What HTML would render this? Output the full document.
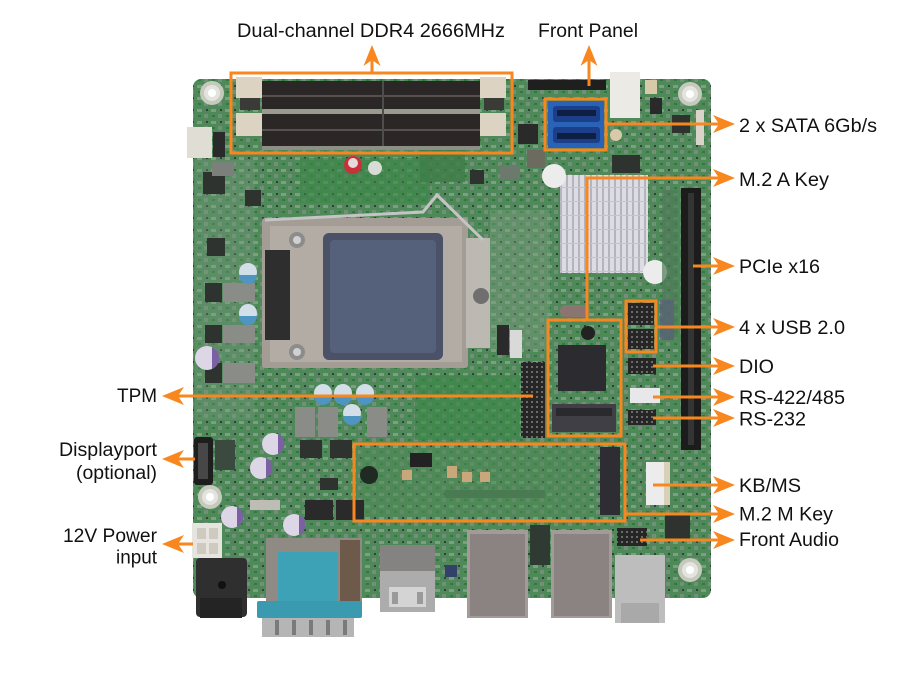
<!DOCTYPE html>
<html><head><meta charset="utf-8"><style>
html,body{margin:0;padding:0;background:#fff;}
svg{display:block;}
text{font-family:"Liberation Sans",Arial,sans-serif;font-size:19px;fill:#111;}
</style></head><body>
<svg width="916" height="690" viewBox="0 0 916 690" xmlns="http://www.w3.org/2000/svg">
<defs>
<pattern id="fins" x="560" y="175" width="6" height="14" patternUnits="userSpaceOnUse">
<rect width="6" height="14" fill="#dcdce2"/><rect x="0" width="2" height="14" fill="#b4b4be"/><rect y="12" width="6" height="1" fill="#c4c4cc"/>
</pattern>
<pattern id="pins" width="5" height="5" patternUnits="userSpaceOnUse">
<rect width="5" height="5" fill="#262626"/><rect x="1" y="1" width="2" height="2" fill="#6b6b6b"/>
</pattern>
<pattern id="mottle" width="14" height="12" patternUnits="userSpaceOnUse">
<rect width="14" height="12" fill="#4f8959"/><rect x="1" y="1" width="5" height="3" fill="#7f9c85"/><rect x="8" y="6" width="4" height="4" fill="#748f79"/><rect x="2" y="7" width="3" height="2" fill="#2f7a3c"/><rect x="10" y="1" width="2" height="2" fill="#34403a"/>
</pattern>
</defs>
<rect width="916" height="690" fill="#fff"/>

<!-- board -->
<rect x="193" y="79" width="518" height="519" rx="8" fill="url(#mottle)"/>
<rect x="300" y="158" width="130" height="45" fill="#3a8646" opacity="0.6"/>
<rect x="415" y="375" width="105" height="65" fill="#3a8646" opacity="0.6"/>
<rect x="360" y="450" width="230" height="65" fill="#4d8a56" opacity="0.5"/>
<rect x="490" y="210" width="60" height="140" fill="#7c9a82" opacity="0.4"/>
<rect x="195" y="160" width="60" height="260" fill="#7c9a82" opacity="0.3"/>

<!-- mount holes -->
<g><circle cx="212" cy="93" r="12" fill="#c6cabd"/><circle cx="212" cy="93" r="8" fill="#e4e4de"/><circle cx="212" cy="93" r="4" fill="#fff"/></g>
<g><circle cx="690" cy="94" r="12" fill="#c6cabd"/><circle cx="690" cy="94" r="8" fill="#e4e4de"/><circle cx="690" cy="94" r="4" fill="#fff"/></g>
<g><circle cx="210" cy="497" r="12" fill="#c6cabd"/><circle cx="210" cy="497" r="8" fill="#e4e4de"/><circle cx="210" cy="497" r="4" fill="#fff"/></g>
<g><circle cx="690" cy="570" r="12" fill="#c6cabd"/><circle cx="690" cy="570" r="8" fill="#e4e4de"/><circle cx="690" cy="570" r="4" fill="#fff"/></g>

<!-- DIMM slots -->
<rect x="262" y="81" width="218" height="28" fill="#2b2727"/>
<rect x="262" y="95" width="218" height="2" fill="#57504e"/>
<rect x="262" y="109" width="218" height="5" fill="#9a9a8e"/>
<rect x="262" y="114" width="218" height="32" fill="#2b2727"/>
<rect x="262" y="129" width="218" height="2" fill="#57504e"/>
<rect x="262" y="146" width="218" height="4" fill="#8e8e84"/>
<rect x="382" y="81" width="2" height="65" fill="#4d4d4d"/>
<rect x="236" y="77" width="26" height="21" fill="#ddd3c3"/>
<rect x="236" y="113" width="26" height="23" fill="#ddd3c3"/>
<rect x="480" y="77" width="26" height="21" fill="#ddd3c3"/>
<rect x="480" y="113" width="26" height="23" fill="#ddd3c3"/>
<rect x="240" y="98" width="20" height="12" fill="#3a3a36"/>
<rect x="484" y="98" width="20" height="12" fill="#3a3a36"/>

<!-- top-left connector -->
<rect x="187" y="127" width="25" height="31" fill="#e0ddd4"/>
<rect x="213" y="132" width="12" height="25" fill="#2a2a2a"/>
<rect x="203" y="172" width="22" height="22" fill="#2e3330"/>
<rect x="207" y="238" width="18" height="18" fill="#2e3330"/>
<rect x="212" y="162" width="22" height="14" fill="#7c807a"/>

<!-- red cap -->
<circle cx="353" cy="165" r="9" fill="#c8303a"/><circle cx="353" cy="163" r="5" fill="#e6dada"/>
<circle cx="375" cy="168" r="7" fill="#d9dcd6"/>
<rect x="420" y="150" width="45" height="32" fill="#3e7d48" opacity="0.8"/>
<rect x="245" y="190" width="16" height="16" fill="#2e3330"/>
<rect x="470" y="170" width="14" height="14" fill="#2e3330"/>
<rect x="500" y="165" width="20" height="14" fill="#6b7a6c"/>

<!-- CPU socket -->
<rect x="262" y="218" width="206" height="150" rx="3" fill="#a39d95"/>
<rect x="270" y="226" width="192" height="136" fill="#b2aca4"/>
<rect x="466" y="238" width="24" height="110" fill="#bcb8b2"/>
<circle cx="481" cy="296" r="8" fill="#6f6f6f"/>
<rect x="323" y="233" width="120" height="127" rx="6" fill="#4b5166"/>
<rect x="330" y="240" width="106" height="113" rx="4" fill="#55607a"/>
<rect x="265" y="250" width="25" height="90" fill="#2e2e2e"/>
<circle cx="297" cy="240" r="8" fill="#8c8c8c"/><circle cx="297" cy="240" r="4" fill="#d0d0d0"/>
<circle cx="297" cy="352" r="8" fill="#8c8c8c"/><circle cx="297" cy="352" r="4" fill="#d0d0d0"/>
<polyline points="265,220 423,212 437,195 483,240" fill="none" stroke="#c4c4c4" stroke-width="3"/>

<!-- left column components -->
<rect x="205" y="283" width="17" height="19" fill="#2e3330"/>
<rect x="223" y="283" width="32" height="19" fill="#8a8c88"/>
<rect x="205" y="325" width="17" height="18" fill="#2e3330"/>
<rect x="223" y="325" width="32" height="18" fill="#8a8c88"/>
<rect x="205" y="363" width="17" height="20" fill="#2e3330"/>
<rect x="223" y="363" width="32" height="20" fill="#8a8c88"/>
<circle cx="248" cy="272" r="9" fill="#d2dfe8"/><path d="M239,275 a9,9 0 0 0 18,0 z" fill="#4e95c2"/>
<circle cx="248" cy="313" r="9" fill="#d2dfe8"/><path d="M239,316 a9,9 0 0 0 18,0 z" fill="#4e95c2"/>
<circle cx="207" cy="358" r="12" fill="#dcd6e6"/><path d="M212,347 a12,12 0 0 1 0,22 z" fill="#7b60a4"/>

<!-- caps under socket -->
<circle cx="323" cy="393" r="9" fill="#d2dfe8"/><path d="M314,396 a9,9 0 0 0 18,0 z" fill="#4e95c2"/>
<circle cx="343" cy="393" r="9" fill="#d2dfe8"/><path d="M334,396 a9,9 0 0 0 18,0 z" fill="#4e95c2"/>
<circle cx="365" cy="393" r="9" fill="#d2dfe8"/><path d="M356,396 a9,9 0 0 0 18,0 z" fill="#4e95c2"/>
<circle cx="352" cy="413" r="9" fill="#d2dfe8"/><path d="M343,416 a9,9 0 0 0 18,0 z" fill="#4e95c2"/>
<rect x="295" y="407" width="20" height="30" fill="#8a8c88"/>
<rect x="318" y="407" width="20" height="30" fill="#8a8c88"/>
<rect x="367" y="407" width="20" height="30" fill="#8a8c88"/>
<rect x="300" y="440" width="22" height="18" fill="#2e3330"/>
<rect x="330" y="440" width="22" height="18" fill="#2e3330"/>

<!-- purple caps lower-left -->
<circle cx="273" cy="444" r="11" fill="#dcd6e6"/><path d="M278,434 a11,11 0 0 1 0,20 z" fill="#7b60a4"/>
<circle cx="261" cy="468" r="11" fill="#dcd6e6"/><path d="M266,458 a11,11 0 0 1 0,20 z" fill="#7b60a4"/>
<circle cx="232" cy="517" r="11" fill="#dcd6e6"/><path d="M237,507 a11,11 0 0 1 0,20 z" fill="#7b60a4"/>
<circle cx="294" cy="525" r="11" fill="#dcd6e6"/><path d="M299,515 a11,11 0 0 1 0,20 z" fill="#7b60a4"/>
<rect x="250" y="500" width="30" height="10" fill="#bdbdb6"/>
<rect x="305" y="500" width="28" height="20" fill="#2a2a2a"/>
<rect x="336" y="500" width="28" height="20" fill="#2a2a2a"/>
<rect x="320" y="478" width="18" height="12" fill="#2e3330"/>

<!-- DP connector -->
<rect x="194" y="437" width="19" height="48" rx="3" fill="#1e1e1e"/>
<rect x="198" y="443" width="10" height="36" fill="#474747"/>
<rect x="215" y="440" width="20" height="30" fill="#3a4a3e"/>

<!-- 12V connector and jack -->
<rect x="192" y="523" width="30" height="35" fill="#e6e4de"/>
<rect x="197" y="528" width="9" height="11" fill="#cfcac0"/><rect x="209" y="528" width="9" height="11" fill="#cfcac0"/>
<rect x="197" y="543" width="9" height="11" fill="#cfcac0"/><rect x="209" y="543" width="9" height="11" fill="#cfcac0"/>
<rect x="196" y="558" width="51" height="59" rx="4" fill="#2f2f2f"/>
<rect x="200" y="598" width="42" height="20" fill="#242424"/>
<circle cx="222" cy="585" r="4" fill="#111"/>

<!-- DB9 -->
<rect x="266" y="538" width="96" height="68" fill="#8f8a84"/>
<rect x="340" y="540" width="20" height="62" fill="#6d5a4a"/>
<rect x="278" y="552" width="60" height="54" fill="#3ea2b7"/>
<rect x="257" y="601" width="105" height="17" rx="2" fill="#3a9ab0"/>
<rect x="262" y="618" width="92" height="19" fill="#b5b5b5"/>
<rect x="275" y="620" width="4" height="15" fill="#7a7a7a"/><rect x="292" y="620" width="4" height="15" fill="#7a7a7a"/><rect x="309" y="620" width="4" height="15" fill="#7a7a7a"/><rect x="326" y="620" width="4" height="15" fill="#7a7a7a"/><rect x="343" y="620" width="4" height="15" fill="#7a7a7a"/>

<!-- HDMI -->
<rect x="380" y="545" width="55" height="67" fill="#acacac"/>
<rect x="380" y="545" width="55" height="26" fill="#858381"/>
<rect x="389" y="587" width="37" height="20" fill="#d4d4d4"/>
<rect x="392" y="592" width="6" height="12" fill="#9a9a9a"/><rect x="417" y="592" width="6" height="12" fill="#9a9a9a"/>
<rect x="445" y="565" width="12" height="12" fill="#33406a"/>

<!-- LAN -->
<rect x="467" y="530" width="61" height="88" fill="#a29b98"/>
<rect x="470" y="534" width="55" height="82" fill="#8a8382"/>
<rect x="551" y="530" width="61" height="88" fill="#a29b98"/>
<rect x="554" y="534" width="55" height="82" fill="#8a8382"/>
<rect x="530" y="525" width="20" height="40" fill="#2f3a32"/>

<!-- right bottom jack -->
<rect x="615" y="555" width="50" height="68" fill="#bdbdbd"/>
<rect x="621" y="603" width="38" height="20" fill="#a9a9a9"/>
<rect x="617" y="528" width="30" height="18" fill="url(#pins)"/>
<rect x="665" y="515" width="25" height="25" fill="#2e3330"/>

<!-- top right -->
<rect x="528" y="80" width="78" height="10" fill="#1f1f1f"/>
<rect x="610" y="72" width="30" height="46" fill="#eceae4"/>
<rect x="645" y="80" width="12" height="14" fill="#d8c9a8"/>
<rect x="650" y="98" width="12" height="16" fill="#2a2a2a"/>
<rect x="672" y="115" width="18" height="18" fill="#2e3330"/>
<rect x="696" y="110" width="8" height="35" fill="#d8d4c8"/>
<rect x="612" y="155" width="28" height="18" fill="#2e3330"/>
<circle cx="616" cy="135" r="6" fill="#d8c9a8"/>
<rect x="518" y="124" width="20" height="20" fill="#2a2a2a"/>
<rect x="527" y="150" width="18" height="18" fill="#6b6b60"/>

<!-- SATA -->
<rect x="548" y="101" width="56" height="47" fill="#2a62b8"/>
<rect x="553" y="106" width="47" height="16" rx="3" fill="#1c3f8a"/>
<rect x="557" y="110" width="39" height="6" fill="#0f1f44"/>
<rect x="553" y="127" width="47" height="16" rx="3" fill="#1c3f8a"/>
<rect x="557" y="133" width="39" height="6" fill="#0f1f44"/>

<!-- heatsink -->
<rect x="560" y="175" width="88" height="98" fill="url(#fins)"/>
<circle cx="554" cy="176" r="12" fill="#ececec"/>
<circle cx="655" cy="272" r="12" fill="#ececec"/>

<!-- PCIe -->
<rect x="681" y="188" width="20" height="262" fill="#1c1c1c"/>
<rect x="688" y="193" width="6" height="252" fill="#343434"/>
<rect x="662" y="190" width="16" height="150" fill="#4e7a58" opacity="0.7"/>

<!-- TPM header -->
<rect x="521" y="362" width="24" height="76" fill="url(#pins)"/>
<rect x="510" y="330" width="12" height="28" fill="#d9d9d9"/>
<rect x="497" y="325" width="12" height="30" fill="#2a2a2a"/>

<!-- M.2 A area -->
<circle cx="588" cy="333" r="7" fill="#222"/>
<rect x="558" y="345" width="48" height="46" fill="#2c2c30"/>
<rect x="552" y="404" width="64" height="28" fill="#3f3f45"/>
<rect x="556" y="408" width="56" height="8" fill="#2a2a2e"/>
<rect x="560" y="305" width="30" height="12" rx="5" fill="#8a7570"/>

<!-- headers right -->
<rect x="628" y="303" width="26" height="22" fill="url(#pins)"/>
<rect x="628" y="329" width="26" height="20" fill="url(#pins)"/>
<rect x="628" y="358" width="28" height="16" fill="url(#pins)"/>
<rect x="630" y="388" width="30" height="15" fill="#e8e8ea"/>
<rect x="628" y="410" width="28" height="15" fill="url(#pins)"/>
<rect x="646" y="462" width="18" height="43" fill="#ececec"/>
<rect x="664" y="462" width="6" height="43" fill="#d8d0b8"/>
<rect x="660" y="300" width="14" height="40" fill="#5a5f7a" opacity="0.7"/>

<!-- M.2 M area -->
<rect x="600" y="447" width="20" height="68" fill="#2d2d33"/>
<circle cx="369" cy="475" r="9" fill="#1e2a22"/>
<rect x="410" y="453" width="22" height="14" fill="#222"/>
<rect x="402" y="470" width="10" height="10" fill="#c9a77a"/>
<rect x="447" y="466" width="10" height="12" fill="#c9a77a"/>
<rect x="462" y="472" width="10" height="10" fill="#c9a77a"/>
<rect x="480" y="472" width="10" height="10" fill="#c9a77a"/>
<rect x="445" y="490" width="100" height="8" fill="#4a7a52"/>

<!-- orange annotations -->
<g fill="none" stroke="#F7871E" stroke-width="3">
<rect x="231" y="73" width="281" height="80"/>
<rect x="545" y="99" width="61" height="51"/>
<rect x="548" y="320" width="73" height="116"/>
<rect x="626" y="301" width="30" height="51"/>
<rect x="354" y="444" width="271" height="77"/>
<line x1="372" y1="73" x2="372" y2="60"/>
<line x1="589" y1="86" x2="589" y2="60"/>
<line x1="606" y1="124" x2="719" y2="124"/>
<polyline points="587,320 587,178 719,178"/>
<line x1="693" y1="266" x2="719" y2="266"/>
<line x1="656" y1="327" x2="719" y2="327"/>
<line x1="653" y1="366" x2="719" y2="366"/>
<line x1="653" y1="397" x2="719" y2="397"/>
<line x1="653" y1="418" x2="719" y2="418"/>
<line x1="653" y1="485" x2="719" y2="485"/>
<line x1="625" y1="514" x2="719" y2="514"/>
<line x1="640" y1="540" x2="719" y2="540"/>
<line x1="533" y1="396" x2="178" y2="396"/>
<line x1="195" y1="459" x2="178" y2="459"/>
<line x1="193" y1="544" x2="178" y2="544"/>
</g>
<g fill="#F7871E">
<polygon points="372,45 363.5,66 372,60 380.5,66"/>
<polygon points="589,45 580.5,66 589,60 597.5,66"/>
<polygon points="735,124 713,115 719,124 713,133"/>
<polygon points="735,178 713,169 719,178 713,187"/>
<polygon points="735,266 713,257 719,266 713,275"/>
<polygon points="735,327 713,318 719,327 713,336"/>
<polygon points="735,366 713,357 719,366 713,375"/>
<polygon points="735,397 713,388 719,397 713,406"/>
<polygon points="735,418 713,409 719,418 713,427"/>
<polygon points="735,485 713,476 719,485 713,494"/>
<polygon points="735,514 713,505 719,514 713,523"/>
<polygon points="735,540 713,531 719,540 713,549"/>
<polygon points="162,396 184,387 178,396 184,405"/>
<polygon points="162,459 184,450 178,459 184,468"/>
<polygon points="162,544 184,535 178,544 184,553"/>
</g>

<!-- labels -->
<text x="237" y="37" textLength="268" lengthAdjust="spacingAndGlyphs">Dual-channel DDR4 2666MHz</text>
<text x="538" y="37" textLength="100" lengthAdjust="spacingAndGlyphs">Front Panel</text>
<text x="739" y="132" textLength="138" lengthAdjust="spacingAndGlyphs">2 x SATA 6Gb/s</text>
<text x="739" y="186" textLength="90" lengthAdjust="spacingAndGlyphs">M.2 A Key</text>
<text x="739" y="273" textLength="81" lengthAdjust="spacingAndGlyphs">PCIe x16</text>
<text x="739" y="334" textLength="106" lengthAdjust="spacingAndGlyphs">4 x USB 2.0</text>
<text x="739" y="373" textLength="35" lengthAdjust="spacingAndGlyphs">DIO</text>
<text x="739" y="404" textLength="106" lengthAdjust="spacingAndGlyphs">RS-422/485</text>
<text x="739" y="425.5" textLength="67" lengthAdjust="spacingAndGlyphs">RS-232</text>
<text x="739" y="492" textLength="62" lengthAdjust="spacingAndGlyphs">KB/MS</text>
<text x="739" y="520.5" textLength="94" lengthAdjust="spacingAndGlyphs">M.2 M Key</text>
<text x="739" y="546" textLength="100" lengthAdjust="spacingAndGlyphs">Front Audio</text>
<text x="117" y="402" textLength="40" lengthAdjust="spacingAndGlyphs">TPM</text>
<text x="59" y="456" textLength="98" lengthAdjust="spacingAndGlyphs">Displayport</text>
<text x="76" y="479" textLength="81" lengthAdjust="spacingAndGlyphs">(optional)</text>
<text x="63" y="542" textLength="94" lengthAdjust="spacingAndGlyphs">12V Power</text>
<text x="116" y="563.5" textLength="41" lengthAdjust="spacingAndGlyphs">input</text>
</svg>
</body></html>
